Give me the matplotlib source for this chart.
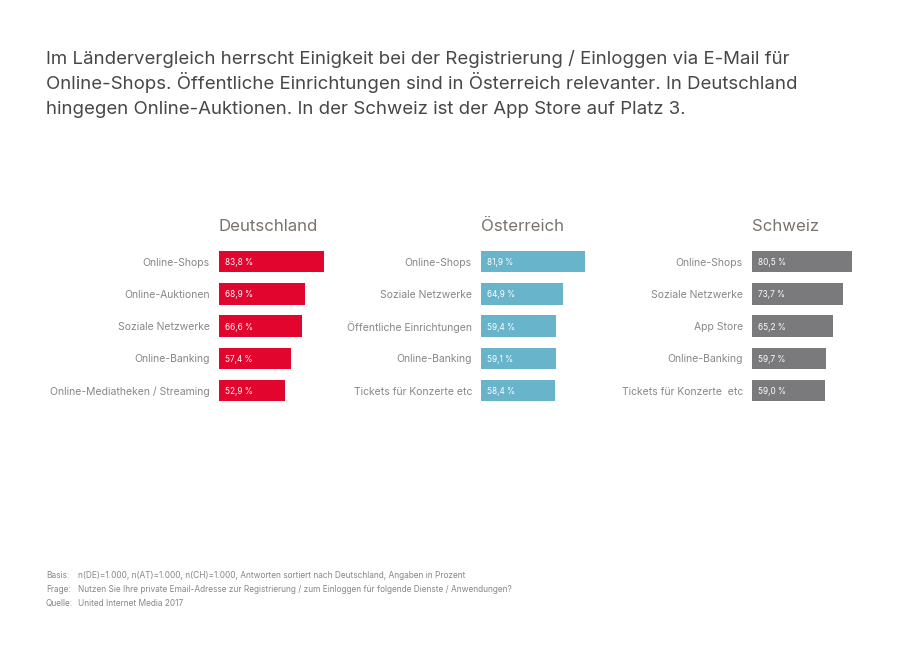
# Three country panels of horizontal bars, with headline and source notes.
import matplotlib
matplotlib.use("Agg")
import matplotlib.pyplot as plt

plt.rcParams['font.family'] = ['Inter', 'DejaVu Sans']

# Data
countries = ['Deutschland', 'Österreich', 'Schweiz']
labels_de = ['Online-Shops', 'Online-Auktionen', 'Soziale Netzwerke', 'Online-Banking', 'Online-Mediatheken / Streaming']
labels_at = ['Online-Shops', 'Soziale Netzwerke', 'Öffentliche Einrichtungen', 'Online-Banking', 'Tickets für Konzerte etc']
labels_ch = ['Online-Shops', 'Soziale Netzwerke', 'App Store', 'Online-Banking', 'Tickets für Konzerte  etc']
values_de = [83.8, 68.9, 66.6, 57.4, 52.9]
values_at = [81.9, 64.9, 59.4, 59.1, 58.4]
values_ch = [80.5, 73.7, 65.2, 59.7, 59.0]

title_lines = [
    'Im Ländervergleich herrscht Einigkeit bei der Registrierung / Einloggen via E-Mail für',
    'Online-Shops. Öffentliche Einrichtungen sind in Österreich relevanter. In Deutschland',
    'hingegen Online-Auktionen. In der Schweiz ist der App Store auf Platz 3.',
]
note_keys = ['Basis:', 'Frage:', 'Quelle:']
note_texts = [
    'n(DE)=1.000, n(AT)=1.000, n(CH)=1.000, Antworten sortiert nach Deutschland, Angaben in Prozent',
    'Nutzen Sie Ihre private Email-Adresse zur Registrierung / zum Einloggen für folgende Dienste / Anwendungen?',
    'United Internet Media 2017',
]

W, H = 915, 647
fig = plt.figure(figsize=(W / 100, H / 100), dpi=100, facecolor='white')

# Panel layout in pixels
panel_left = [219, 481, 752]
panel_width = [125.3, 127, 124]
panel_top, panel_height = 245.6, 161.25
colors = ['#e2062e', '#68b4cb', '#7a7a7c']
all_labels = [labels_de, labels_at, labels_ch]
all_values = [values_de, values_at, values_ch]

for i, country in enumerate(countries):
    ax = fig.add_axes([panel_left[i] / W, 1 - (panel_top + panel_height) / H,
                       panel_width[i] / W, panel_height / H])
    ax.barh(range(5), all_values[i], height=0.667, color=colors[i])
    ax.set_xlim(0, 100)
    ax.set_ylim(4.5, -0.5)
    ax.set_yticks(range(5))
    ax.set_yticklabels(all_labels[i], fontsize=7.5, color='#87878a', va='center_baseline')
    ax.tick_params(axis='y', length=0, pad=6.5)
    ax.set_xticks([])
    for side in ax.spines.values():
        side.set_visible(False)
    for j, v in enumerate(all_values[i]):
        ax.text(5, j, f'{v:.1f} %'.replace('.', ','), color='white', fontsize=5.9,
                va='center_baseline', ha='left')
    fig.text(panel_left[i] / W, 1 - 230.5 / H, country, fontsize=12.1,
             color='#7a736c', ha='left', va='baseline')

# Headline
for y, line in zip([64, 89, 114], title_lines):
    fig.text(46 / W, 1 - y / H, line, fontsize=13.43, color='#474746', va='baseline', ha='left')

# Notes
for y, key, text in zip([578, 592, 606], note_keys, note_texts):
    fig.text(46 / W, 1 - y / H, key, fontsize=6, color='#87878a', va='baseline')
    fig.text(78 / W, 1 - y / H, text, fontsize=6, color='#87878a', va='baseline')

fig.savefig('out.png', dpi=100)
